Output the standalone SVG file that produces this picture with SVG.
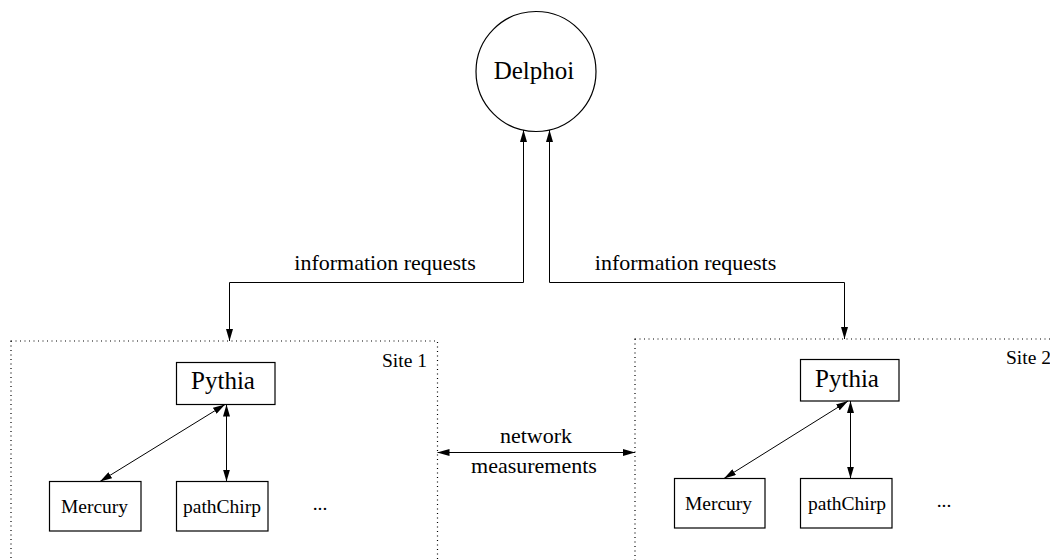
<svg xmlns="http://www.w3.org/2000/svg" width="1050" height="560" viewBox="0 0 1050 560">
  <style>
    .box { fill: #fff; stroke: #000; stroke-width: 1.2; }
    .site { fill: none; stroke: #000; stroke-width: 1.2; stroke-dasharray: 1 3.5; }
    .link { fill: none; stroke: #000; stroke-width: 1; }
    text { font-family: "Liberation Serif", "Times New Roman", serif; fill: #000; }
    .big { font-size: 25px; text-anchor: middle; }
    .mid { font-size: 22px; text-anchor: middle; }
    .small { font-size: 19.5px; text-anchor: middle; }
    .lbl { font-size: 19.5px; }
  </style>
  <defs>
    <marker id="arrow" viewBox="0 0 12 7" refX="12" refY="3.5" markerWidth="12" markerHeight="7" markerUnits="userSpaceOnUse" orient="auto-start-reverse">
      <path d="M0,0 L12,3.5 L0,7 z" fill="#000"/>
    </marker>
  </defs>

  <!-- site enclosures -->
  <g id="site1">
    <rect class="site" x="11" y="341" width="426.5" height="240"/>
    <text class="lbl" x="382" y="367">Site 1</text>
  </g>
  <g id="site2">
    <rect class="site" x="635" y="339" width="440" height="240"/>
    <text class="lbl" x="1006" y="364">Site 2</text>
  </g>

  <!-- central coordinator -->
  <g id="delphoi">
    <circle class="box" cx="536" cy="71.5" r="60"/>
    <text class="big" x="534" y="79">Delphoi</text>
  </g>

  <!-- site 1 nodes -->
  <g id="pythia1">
    <rect class="box" x="176.5" y="362.5" width="98.5" height="42"/>
    <text class="big" x="223" y="389">Pythia</text>
  </g>
  <g id="mercury1">
    <rect class="box" x="49.5" y="481.5" width="91.5" height="49.5"/>
    <text class="small" x="94.5" y="513">Mercury</text>
  </g>
  <g id="pathchirp1">
    <rect class="box" x="176.5" y="481.5" width="91.5" height="49.5"/>
    <text class="small" x="222" y="513">pathChirp</text>
  </g>
  <g id="more1">
    <text class="small" x="320" y="510">...</text>
  </g>

  <!-- site 2 nodes -->
  <g id="pythia2">
    <rect class="box" x="800.5" y="359.5" width="98.5" height="41.5"/>
    <text class="big" x="847" y="387">Pythia</text>
  </g>
  <g id="mercury2">
    <rect class="box" x="674.5" y="478.5" width="90.5" height="49.5"/>
    <text class="small" x="718.5" y="510">Mercury</text>
  </g>
  <g id="pathchirp2">
    <rect class="box" x="800.5" y="478.5" width="91.5" height="49.5"/>
    <text class="small" x="847" y="510">pathChirp</text>
  </g>
  <g id="more2">
    <text class="small" x="944" y="507">...</text>
  </g>

  <!-- connectors -->
  <g id="connectors">
    <path class="link" d="M229.5,341 L229.5,282.5 L523.5,282.5 L523.5,130" marker-start="url(#arrow)" marker-end="url(#arrow)"/>
    <path class="link" d="M549.5,130 L549.5,282.5 L844.5,282.5 L844.5,339" marker-start="url(#arrow)" marker-end="url(#arrow)"/>
    <text class="mid" x="385" y="270">information requests</text>
    <text class="mid" x="685.5" y="270">information requests</text>

    <path class="link" d="M437.5,452.5 L635,452.5" marker-start="url(#arrow)" marker-end="url(#arrow)"/>
    <text class="mid" x="536" y="443">network</text>
    <text class="mid" x="534" y="473">measurements</text>

    <path class="link" d="M225,404.5 L100,481.5" marker-start="url(#arrow)" marker-end="url(#arrow)"/>
    <path class="link" d="M226.5,404.5 L226.5,481.5" marker-start="url(#arrow)" marker-end="url(#arrow)"/>
    <path class="link" d="M848,401 L724,478.5" marker-start="url(#arrow)" marker-end="url(#arrow)"/>
    <path class="link" d="M850.5,401 L850.5,478.5" marker-start="url(#arrow)" marker-end="url(#arrow)"/>
  </g>
</svg>
